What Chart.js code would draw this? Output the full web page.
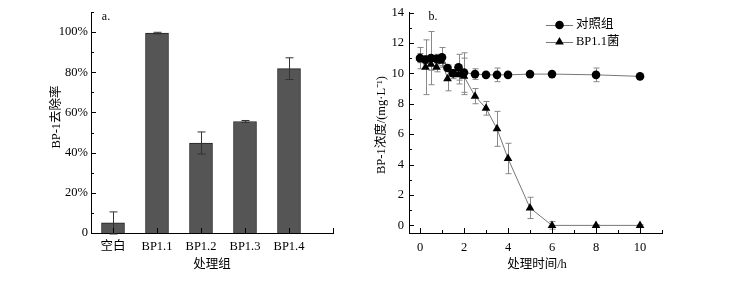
<!DOCTYPE html>
<html>
<head>
<meta charset="utf-8">
<script src="https://cdn.jsdelivr.net/npm/chart.js@4.4.1/dist/chart.umd.min.js"></script>
<style>
  html, body { margin: 0; padding: 0; background: #fff; }
  #wrap { position: relative; width: 733px; height: 288px; }
  #chartA { position: absolute; left: 0; top: 0; }
  #chartB { position: absolute; left: 360px; top: 0; }
</style>
</head>
<body>
<div id="wrap">
  <canvas id="chartA" width="360" height="288"></canvas>
  <canvas id="chartB" width="373" height="288"></canvas>
</div>
<script>
// Panel a: removal rate per group
const groupLabels = ['空白', 'BP1.1', 'BP1.2', 'BP1.3', 'BP1.4'];
const removalRate = [5.0, 99.5, 44.8, 55.5, 81.8];
const removalErr = [5.5, 0.4, 5.5, 0.5, 5.4];
const rateTicks = [0, 20, 40, 60, 80, 100];

// Panel b: BP-1 concentration over time
const timeH = [0, 0.25, 0.5, 0.75, 1, 1.25, 1.5, 1.75, 2, 2.5, 3, 3.5, 4, 5, 6, 8, 10];
const controlConc = [11.0, 10.9, 11.0, 10.95, 11.05, 10.35, 10.0, 10.4, 10.05, 9.95, 9.9, 9.9, 9.9, 9.95, 9.95, 9.9, 9.8];
const controlErr = [0.7, 0.25, 1.75, 0.3, 0.65, 0.2, 0.2, 0.85, 1.3, 0.35, 0.1, 0.45, 0.1, 0.1, 0.1, 0.45, 0.1];
const strainConc = [11.0, 10.4, 10.6, 10.4, 10.8, 9.65, 9.95, 9.9, 9.8, 8.5, 7.7, 6.35, 4.4, 1.15, 0.0, 0.0, 0.0];
const strainErr = [0.3, 1.8, 0.4, 0.3, 0.3, 0.8, 0.3, 0.6, 1.2, 0.5, 0.45, 1.15, 1.0, 0.7, 0.25, 0.05, 0.05];
const concTicks = [0, 2, 4, 6, 8, 10, 12, 14];
const timeTicks = [0, 2, 4, 6, 8, 10];

const serif = "'Liberation Serif', 'Noto Sans CJK SC', serif";
const cjk = "'Liberation Serif', 'Noto Sans CJK SC', serif";

// draws inward tick marks, major + minor
function inwardTicks(chart, axis, major, minor, len, minLen) {
    const ctx = chart.ctx;
    const s = chart.scales[axis];
    const a = chart.chartArea;
    ctx.save();
    ctx.strokeStyle = '#000';
    ctx.lineWidth = 1;
    ctx.beginPath();
    major.forEach(v => {
        const p = Math.round(s.getPixelForValue(v)) + 0.5;
        if (axis === 'y') { ctx.moveTo(a.left, p); ctx.lineTo(a.left + len, p); }
        else { ctx.moveTo(p, a.bottom); ctx.lineTo(p, a.bottom - len); }
    });
    minor.forEach(v => {
        const p = Math.round(s.getPixelForValue(v)) + 0.5;
        if (axis === 'y') { ctx.moveTo(a.left, p); ctx.lineTo(a.left + minLen, p); }
        else { ctx.moveTo(p, a.bottom); ctx.lineTo(p, a.bottom - minLen); }
    });
    ctx.stroke();
    ctx.restore();
}

function errorBars(chart, xs, ys, errs, color, cap) {
    const ctx = chart.ctx;
    const sx = chart.scales.x, sy = chart.scales.y;
    ctx.save();
    ctx.strokeStyle = color;
    ctx.lineWidth = 1;
    ctx.beginPath();
    xs.forEach((x, i) => {
        const px = Math.round(sx.getPixelForValue(x)) + 0.5;
        const top = sy.getPixelForValue(ys[i] + errs[i]);
        const bot = sy.getPixelForValue(ys[i] - errs[i]);
        ctx.moveTo(px, top); ctx.lineTo(px, bot);
        ctx.moveTo(px - cap, top); ctx.lineTo(px + cap, top);
        ctx.moveTo(px - cap, bot); ctx.lineTo(px + cap, bot);
    });
    ctx.stroke();
    ctx.restore();
}

function text(ctx, str, x, y, font, align, rot) {
    ctx.save();
    ctx.fillStyle = '#000';
    ctx.font = font;
    ctx.textAlign = align || 'center';
    ctx.textBaseline = 'middle';
    ctx.translate(x, y);
    if (rot) ctx.rotate(rot);
    ctx.fillText(str, 0, 0);
    ctx.restore();
}

const groupX = groupLabels.map((l, i) => i + 0.5);

new Chart(document.getElementById('chartA'), {
    type: 'bar',
    data: {
        datasets: [{
            data: groupX.map((x, i) => ({ x: x, y: removalRate[i] })),
            backgroundColor: '#555555',
            borderColor: '#222222',
            borderWidth: 1,
            barThickness: 23
        }]
    },
    options: {
        responsive: false,
        animation: false,
        layout: { padding: { top: 12, right: 27, left: 0, bottom: 0 } },
        plugins: { legend: { display: false }, tooltip: { enabled: false } },
        scales: {
            x: {
                type: 'linear',
                offset: false,
                min: 0,
                max: 5.5,
                afterBuildTicks: s => { s.ticks = groupX.map(v => ({ value: v })); },
                afterFit: s => { s.height = 55; },
                grid: { display: false, drawTicks: false, offset: false },
                border: { color: '#000', width: 1 },
                ticks: {
                    color: '#000',
                    font: { family: cjk, size: 12.5 },
                    padding: 6,
                    maxRotation: 0,
                    autoSkip: false,
                    callback: v => groupLabels[Math.round(v - 0.5)]
                }
            },
            y: {
                min: 0,
                max: 110,
                afterBuildTicks: s => { s.ticks = rateTicks.map(v => ({ value: v })); },
                afterFit: s => { s.width = 91; },
                grid: { display: false, drawTicks: false },
                border: { color: '#000', width: 1 },
                ticks: {
                    color: '#000',
                    font: { family: serif, size: 12.5 },
                    padding: 3,
                    callback: v => v === 0 ? '0' : v + '%'
                }
            }
        }
    },
    plugins: [{
        id: 'decorA',
        afterDatasetsDraw(chart) {
            errorBars(chart, groupX, removalRate, removalErr, '#333', 4);
            inwardTicks(chart, 'y', rateTicks, [10, 30, 50, 70, 90, 110], 5, 3);
            inwardTicks(chart, 'x', groupX.concat([5.5]), [], 5, 0);
            const ctx = chart.ctx;
            text(ctx, 'a.', 106, 17, '12px ' + serif, 'center');
            text(ctx, 'BP-1去除率', 57, 117, '12.5px ' + cjk, 'center', -Math.PI / 2);
            text(ctx, '处理组', 212, 265, '12.5px ' + cjk, 'center');
        }
    }]
});

const markerColor = '#000';
const lineColor = '#777';

new Chart(document.getElementById('chartB'), {
    type: 'line',
    data: {
        datasets: [{
            label: '对照组',
            data: timeH.map((t, i) => ({ x: t, y: controlConc[i] })),
            borderColor: lineColor,
            borderWidth: 1,
            pointStyle: 'circle',
            pointRadius: 4.3,
            pointBackgroundColor: markerColor,
            pointBorderColor: markerColor,
            pointBorderWidth: 0,
            tension: 0
        }, {
            label: 'BP1.1菌',
            data: timeH.map((t, i) => ({ x: t, y: strainConc[i] })),
            borderColor: lineColor,
            borderWidth: 1,
            pointStyle: 'triangle',
            pointRadius: 5,
            pointBackgroundColor: markerColor,
            pointBorderColor: markerColor,
            pointBorderWidth: 0,
            tension: 0
        }]
    },
    options: {
        responsive: false,
        animation: false,
        layout: { padding: { top: 12, right: 71, left: 0, bottom: 0 } },
        plugins: { legend: { display: false }, tooltip: { enabled: false } },
        scales: {
            x: {
                type: 'linear',
                min: -0.5,
                max: 11,
                afterBuildTicks: s => { s.ticks = timeTicks.map(v => ({ value: v })); },
                afterFit: s => { s.height = 55; },
                grid: { display: false, drawTicks: false },
                border: { color: '#000', width: 1 },
                ticks: {
                    color: '#000',
                    font: { family: serif, size: 12.5 },
                    padding: 7,
                    maxRotation: 0,
                    autoSkip: false
                }
            },
            y: {
                min: -0.5,
                max: 14,
                afterBuildTicks: s => { s.ticks = concTicks.map(v => ({ value: v })); },
                afterFit: s => { s.width = 49; },
                grid: { display: false, drawTicks: false },
                border: { color: '#000', width: 1 },
                ticks: {
                    color: '#000',
                    font: { family: serif, size: 12.5 },
                    padding: 5
                }
            }
        }
    },
    plugins: [{
        id: 'decorB',
        beforeDatasetsDraw(chart) {
            errorBars(chart, timeH, controlConc, controlErr, '#888', 3);
            errorBars(chart, timeH, strainConc, strainErr, '#888', 3);
        },
        afterDatasetsDraw(chart) {
            inwardTicks(chart, 'y', concTicks, [1, 3, 5, 7, 9, 11, 13], 5, 3);
            inwardTicks(chart, 'x', timeTicks, [1, 3, 5, 7, 9, 11], 5, 3);
            const ctx = chart.ctx;
            // legend
            const items = [
                { label: '对照组', style: 'circle', r: 4.3, y: 25 },
                { label: 'BP1.1菌', style: 'triangle', r: 5, y: 42 }
            ];
            items.forEach(it => {
                ctx.save();
                ctx.strokeStyle = lineColor;
                ctx.lineWidth = 1;
                ctx.beginPath();
                ctx.moveTo(186, it.y + 0.5);
                ctx.lineTo(213, it.y + 0.5);
                ctx.stroke();
                ctx.fillStyle = markerColor;
                ctx.strokeStyle = markerColor;
                ctx.lineWidth = 0;
                Chart.helpers.drawPoint(ctx, { pointStyle: it.style, radius: it.r, borderWidth: 0, rotation: 0 }, 199.5, it.y);
                ctx.restore();
                text(ctx, it.label, 216, it.y, '12.5px ' + cjk, 'left');
            });
            text(ctx, 'b.', 73, 17, '12px ' + serif, 'center');
            text(ctx, 'BP-1浓度/(mg·L⁻¹)', 22, 125, '12.5px ' + cjk, 'center', -Math.PI / 2);
            text(ctx, '处理时间/h', 177, 265, '12.5px ' + cjk, 'center');
        }
    }]
});
</script>
</body>
</html>
